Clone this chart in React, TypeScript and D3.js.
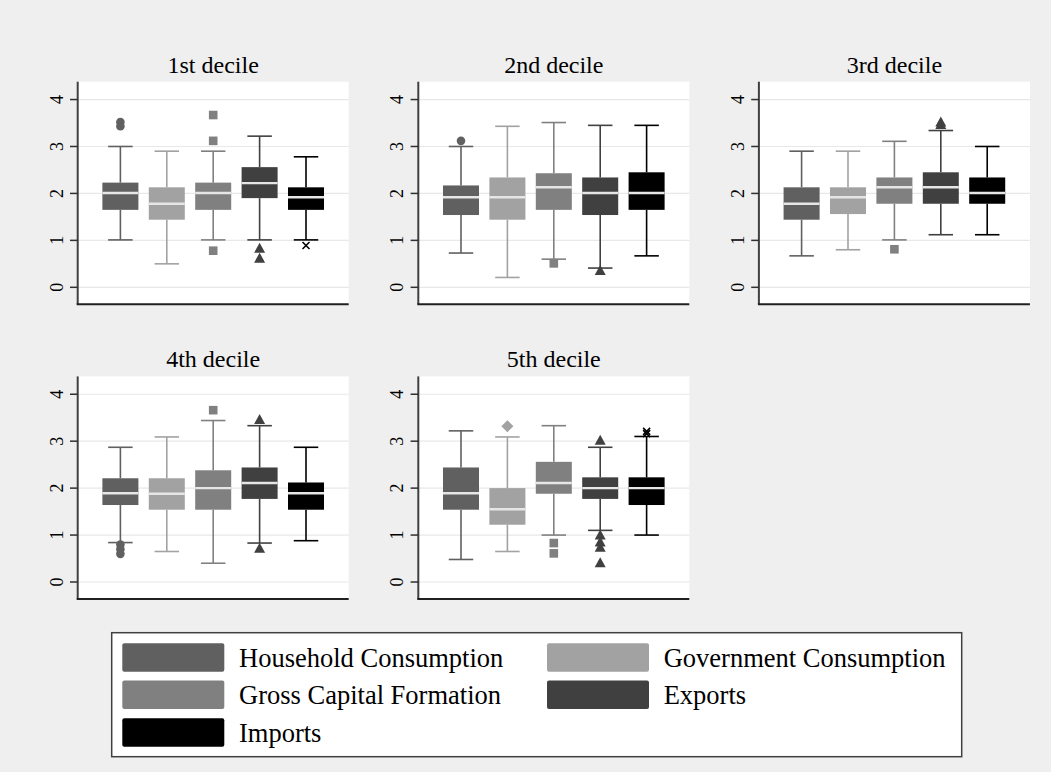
import React from "react";
import * as d3 from "d3";

// ---------- DATA ----------
const deciles = ["1st decile", "2nd decile", "3rd decile", "4th decile", "5th decile"];
const seriesNames = [
  "Household Consumption",
  "Government Consumption",
  "Gross Capital Formation",
  "Exports",
  "Imports",
];
const yTicks = [0, 1, 2, 3, 4];

// [lower whisker, Q1, median, Q3, upper whisker] per series
const decile1Stats = [
  [1.01, 1.65, 2.01, 2.23, 3.0],
  [0.5, 1.44, 1.78, 2.13, 2.9],
  [1.01, 1.65, 2.01, 2.23, 2.9],
  [1.01, 1.9, 2.22, 2.56, 3.22],
  [1.01, 1.65, 1.92, 2.13, 2.78],
];
const decile1Outliers = [[3.52, 3.43], [], [3.67, 3.12, 0.78], [0.83, 0.62], [0.89]];

const decile2Stats = [
  [0.73, 1.54, 1.92, 2.17, 3.0],
  [0.21, 1.44, 1.92, 2.34, 3.43],
  [0.6, 1.65, 2.13, 2.43, 3.51],
  [0.41, 1.54, 2.01, 2.34, 3.45],
  [0.67, 1.65, 2.01, 2.45, 3.45],
];
const decile2Outliers = [[3.12], [], [0.51], [0.36], []];

const decile3Stats = [
  [0.67, 1.44, 1.78, 2.13, 2.9],
  [0.8, 1.56, 1.92, 2.13, 2.9],
  [1.01, 1.78, 2.13, 2.34, 3.11],
  [1.12, 1.78, 2.13, 2.45, 3.34],
  [1.12, 1.78, 2.01, 2.34, 3.0],
];
const decile3Outliers = [[], [], [0.81], [3.52, 3.47], []];

const decile4Stats = [
  [0.84, 1.64, 1.89, 2.21, 2.87],
  [0.65, 1.54, 1.88, 2.21, 3.09],
  [0.4, 1.54, 2.0, 2.38, 3.44],
  [0.83, 1.77, 2.11, 2.44, 3.33],
  [0.88, 1.54, 1.89, 2.12, 2.87],
];
const decile4Outliers = [[0.8, 0.7, 0.6], [], [3.66], [3.46, 0.72], []];

const decile5Stats = [
  [0.48, 1.54, 1.89, 2.44, 3.22],
  [0.65, 1.22, 1.55, 2.0, 3.09],
  [1.0, 1.88, 2.11, 2.56, 3.33],
  [1.1, 1.77, 2.0, 2.23, 2.87],
  [1.0, 1.64, 2.0, 2.23, 3.1],
];
const decile5Outliers = [[], [3.32], [0.83, 0.61], [3.02, 1.0, 0.85, 0.74, 0.41], [3.21, 3.16]];

const allStats = [decile1Stats, decile2Stats, decile3Stats, decile4Stats, decile5Stats];
const allOutliers = [decile1Outliers, decile2Outliers, decile3Outliers, decile4Outliers, decile5Outliers];

// ---------- STYLE ----------
const seriesColors = ["#606060", "#a2a2a2", "#808080", "#404040", "#000000"];
const markerShapes = ["circle", "diamond", "square", "triangle", "cross"];
const FONT = "'Liberation Serif', 'Times New Roman', serif";

const W = 1051;
const H = 772;
const panelW = 271;
const panelStepX = 340.6;
const firstLeft = 77.7;
const rowTops = [81.7, 376.4];
const plotH = 222.6;

function Marker({ shape, x, y, color }: { shape: string; x: number; y: number; color: string }) {
  if (shape === "circle") return <circle cx={x} cy={y} r={4.3} fill={color} />;
  if (shape === "square") return <rect x={x - 4.3} y={y - 4.3} width={8.6} height={8.6} fill={color} />;
  if (shape === "diamond")
    return <path d={`M${x},${y - 6}L${x + 6},${y}L${x},${y + 6}L${x - 6},${y}Z`} fill={color} />;
  if (shape === "triangle")
    return <path d={`M${x},${y - 5.5}L${x + 5.5},${y + 4.5}L${x - 5.5},${y + 4.5}Z`} fill={color} />;
  return (
    <g stroke={color} strokeWidth={1.6}>
      <line x1={x - 3.5} y1={y - 3.5} x2={x + 3.5} y2={y + 3.5} />
      <line x1={x - 3.5} y1={y + 3.5} x2={x + 3.5} y2={y - 3.5} />
    </g>
  );
}

function Panel({ idx }: { idx: number }) {
  const row = Math.floor(idx / 3);
  const col = idx % 3;
  const left = firstLeft + col * panelStepX;
  const top = rowTops[row];
  const bottom = top + plotH;
  const y = d3.scaleLinear().domain([-0.362, 4.38]).range([bottom, top]);
  const x = d3
    .scaleBand<string>()
    .domain(seriesNames)
    .range([left, left + panelW])
    .paddingInner(0.224)
    .paddingOuter(0.532);
  const bw = x.bandwidth();
  const capW = bw * 0.68;
  const stats = allStats[idx];
  const outs = allOutliers[idx];
  return (
    <g>
      <rect x={left} y={top} width={panelW} height={plotH} fill="#ffffff" />
      {yTicks.map((t) => (
        <line key={"g" + t} x1={left} x2={left + panelW} y1={y(t)} y2={y(t)} stroke="#e8e8e8" strokeWidth={1.2} />
      ))}
      {seriesNames.map((s, i) => {
        const [lo, q1, med, q3, hi] = stats[i];
        const cx = (x(s) as number) + bw / 2;
        const c = seriesColors[i];
        return (
          <g key={s}>
            <line x1={cx} x2={cx} y1={y(q3)} y2={y(hi)} stroke={c} strokeWidth={1.6} />
            <line x1={cx} x2={cx} y1={y(q1)} y2={y(lo)} stroke={c} strokeWidth={1.6} />
            <line x1={cx - capW / 2} x2={cx + capW / 2} y1={y(hi)} y2={y(hi)} stroke={c} strokeWidth={1.6} />
            <line x1={cx - capW / 2} x2={cx + capW / 2} y1={y(lo)} y2={y(lo)} stroke={c} strokeWidth={1.6} />
            <rect x={cx - bw / 2} y={y(q3)} width={bw} height={y(q1) - y(q3)} fill={c} />
            <line x1={cx - bw / 2} x2={cx + bw / 2} y1={y(med)} y2={y(med)} stroke="#e6e6e6" strokeWidth={2.4} />
            {outs[i].map((v, k) => (
              <Marker key={k} shape={markerShapes[i]} x={cx} y={y(v)} color={c} />
            ))}
          </g>
        );
      })}
      {/* axes */}
      <line x1={left} x2={left} y1={top} y2={bottom} stroke="#404040" strokeWidth={2} />
      <line x1={left - 1} x2={left + panelW} y1={bottom} y2={bottom} stroke="#202020" strokeWidth={2} />
      {yTicks.map((t) => (
        <g key={"t" + t}>
          <line x1={left - 7.7} x2={left} y1={y(t)} y2={y(t)} stroke="#303030" strokeWidth={1.5} />
          <text
            transform={`translate(${left - 15},${y(t)}) rotate(-90)`}
            textAnchor="middle"
            fontFamily={FONT}
            fontSize={18}
            fill="#000"
          >
            {t}
          </text>
        </g>
      ))}
      <text
        x={left + panelW / 2}
        y={top - 9}
        textAnchor="middle"
        fontFamily={FONT}
        fontSize={24}
        fill="#000"
      >
        {deciles[idx]}
      </text>
    </g>
  );
}

function Legend() {
  const bx = 111.7;
  const by = 632.7;
  const bwid = 850;
  const bh = 124;
  const colX = [122.3, 547];
  const rowY = [643.3, 680.5, 718.3];
  return (
    <g>
      <rect x={bx} y={by} width={bwid} height={bh} fill="#ffffff" stroke="#404040" strokeWidth={1.5} />
      {seriesNames.map((s, i) => {
        const cx = colX[i % 2];
        const ry = rowY[Math.floor(i / 2)];
        return (
          <g key={s}>
            <rect x={cx} y={ry} width={102} height={28.4} rx={2} fill={seriesColors[i]} />
            <text x={cx + 116.7} y={ry + 23.4} fontFamily={FONT} fontSize={26.5} fill="#000">
              {s}
            </text>
          </g>
        );
      })}
    </g>
  );
}

export default function App() {
  return (
    <svg
      width={W}
      height={H}
      style={{ position: "absolute", left: 0, top: 0, display: "block" }}
      xmlns="http://www.w3.org/2000/svg"
    >
      <rect x={0} y={0} width={W} height={H} fill="#efefef" />
      {deciles.map((d, i) => (
        <Panel key={d} idx={i} />
      ))}
      <Legend />
    </svg>
  );
}
